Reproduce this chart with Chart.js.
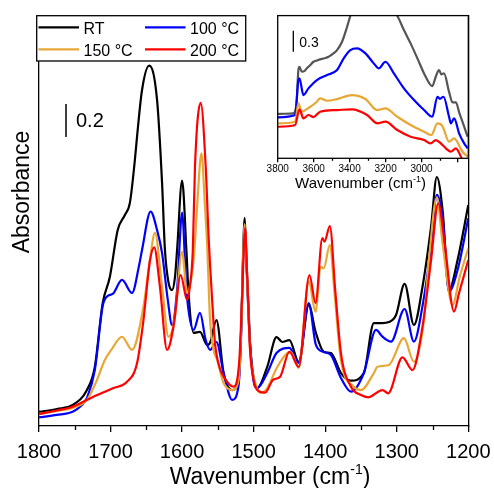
<!DOCTYPE html>
<html>
<head>
<meta charset="utf-8">
<script src="https://cdn.jsdelivr.net/npm/chart.js@4.4.1/dist/chart.umd.min.js"></script>
<style>
  html, body { margin: 0; padding: 0; background: #fff; }
  #wrap { position: relative; width: 494px; height: 488px; }
  #main { position: absolute; left: 0; top: 0; width: 494px; height: 488px; }
  #inset { position: absolute; left: 230px; top: 0; width: 264px; height: 200px; }
</style>
</head>
<body>
<div id="wrap">
  <canvas id="main" width="494" height="488"></canvas>
  <canvas id="inset" width="264" height="200"></canvas>
</div>
<script>
// series labels / colours
const SERIES_LABELS = ['RT', '100 °C', '150 °C', '200 °C'];
const SERIES_COLORS = ['#000000', '#0000ff', '#e8a735', '#ff0000'];
const INSET_RT_COLOR = '#555555';

// main axis (wavenumber, cm-1)
const MAIN_TICKS = [1800, 1700, 1600, 1500, 1400, 1300, 1200];
const MAIN_MINOR = [1750, 1650, 1550, 1450, 1350, 1250];
// inset axis
const INSET_TICKS = [3800, 3600, 3400, 3200, 3000, 2800];
const INSET_MINOR = [3700, 3500, 3300, 3100, 2900];

// main spectra [wavenumber, absorbance]
const RT_MAIN = [[1800,0.085],[1775,0.103],[1753,0.127],[1733,0.218],[1722,0.358],[1711,0.745],[1701,0.903],[1690,1.188],[1680,1.279],[1673,1.352],[1666,1.612],[1663,1.752],[1656,2.036],[1646,2.184],[1635,1.976],[1628,1.473],[1624,1.067],[1619,0.87],[1614,0.824],[1610,0.9],[1607,1.067],[1600,1.487],[1594,1.067],[1591,0.806],[1584,0.564],[1575,0.570],[1565,0.491],[1561,0.503],[1552,0.642],[1542,0.321],[1530,0.218],[1521,0.279],[1517,0.642],[1515,1.0],[1512.5,1.261],[1510,1.0],[1507,0.7],[1505,0.503],[1500,0.291],[1495,0.230],[1481,0.358],[1468,0.539],[1460,0.509],[1450,0.521],[1437,0.388],[1423,0.733],[1413,0.564],[1402,0.450],[1392,0.442],[1378,0.321],[1364,0.275],[1346,0.321],[1332,0.624],[1320,0.624],[1311,0.630],[1301,0.673],[1289,0.861],[1276,0.612],[1264,0.844],[1252,1.208],[1244,1.509],[1236,1.309],[1227,0.824],[1215,1.006],[1200,1.339]];
const H100_MAIN = [[1800,0.053],[1775,0.067],[1753,0.087],[1740,0.127],[1733,0.170],[1722,0.339],[1711,0.727],[1704,0.788],[1697,0.800],[1684,0.885],[1670,0.806],[1660,0.976],[1656,1.067],[1644,1.299],[1635,1.188],[1628,1.048],[1620,0.764],[1614,0.612],[1607,0.824],[1600,1.293],[1594,0.824],[1584,0.582],[1575,0.685],[1567,0.521],[1561,0.461],[1552,0.509],[1542,0.321],[1530,0.158],[1521,0.248],[1517,0.62],[1515,0.97],[1512.5,1.212],[1510,0.97],[1507,0.66],[1505,0.491],[1500,0.27],[1495,0.230],[1481,0.321],[1468,0.442],[1450,0.473],[1437,0.382],[1423,0.745],[1413,0.491],[1402,0.448],[1392,0.430],[1378,0.291],[1364,0.208],[1346,0.321],[1329,0.582],[1320,0.541],[1308,0.511],[1289,0.709],[1276,0.511],[1264,0.727],[1252,1.087],[1244,1.400],[1236,1.268],[1227,0.814],[1215,0.945],[1200,1.259]];
const H150_MAIN = [[1800,0.073],[1775,0.091],[1753,0.109],[1733,0.158],[1720,0.268],[1708,0.400],[1699,0.461],[1684,0.541],[1670,0.461],[1654,0.723],[1645,1.006],[1638,1.170],[1628,0.844],[1619,0.541],[1610,0.662],[1600,1.056],[1593,0.806],[1587,0.9],[1583,1.056],[1579,1.329],[1573,1.653],[1568,1.329],[1565,1.1],[1561,0.65],[1556,0.46],[1551,0.4],[1542,0.261],[1530,0.218],[1521,0.279],[1517,0.64],[1515,1.0],[1512.5,1.224],[1510,0.98],[1507,0.66],[1505,0.461],[1497,0.25],[1490,0.200],[1481,0.230],[1467,0.358],[1453,0.442],[1448,0.448],[1437,0.352],[1423,0.875],[1413.5,0.693],[1406.5,0.965],[1402,0.956],[1393.5,1.097],[1387,0.806],[1378,0.400],[1360,0.238],[1350,0.218],[1332,0.321],[1327,0.359],[1311,0.370],[1290,0.532],[1276,0.390],[1262,0.642],[1255,1.006],[1244,1.384],[1236,1.109],[1222,0.733],[1212,0.905],[1200,1.077]];
const H200_MAIN = [[1800,0.073],[1775,0.094],[1753,0.117],[1724,0.178],[1696,0.230],[1677,0.268],[1663,0.380],[1654,0.642],[1645,1.0],[1639,1.083],[1631,0.844],[1621,0.461],[1612,0.602],[1602,0.915],[1593,0.764],[1589,0.85],[1585,1.067],[1582,1.571],[1574,1.959],[1567,1.571],[1563,1.15],[1558.5,0.80],[1554,0.503],[1548,0.36],[1542,0.299],[1528,0.238],[1520,0.40],[1516,0.8],[1512,1.200],[1509,0.9],[1505,0.461],[1500,0.28],[1495,0.218],[1484,0.202],[1473,0.279],[1463,0.299],[1450,0.450],[1437,0.359],[1422,0.915],[1413.5,0.745],[1404,1.138],[1401,1.117],[1393.5,1.212],[1386,0.824],[1378,0.442],[1364,0.238],[1350,0.188],[1340,0.174],[1320,0.218],[1312,0.198],[1292,0.416],[1278,0.339],[1264,0.602],[1252,1.006],[1242,1.350],[1233,1.107],[1220,0.693],[1213,0.804],[1200,1.006]];

// inset spectra (O-H / C-H region) [wavenumber, absorbance]
const RT_INSET = [[3800,0.633],[3760,0.637],[3713,0.643],[3700,0.70],[3694,0.833],[3685,1.261],[3679,1.309],[3666,1.237],[3650,1.25],[3638,1.286],[3620,1.33],[3601,1.380],[3580,1.40],[3564,1.414],[3540,1.43],[3517,1.451],[3490,1.50],[3470,1.547],[3442,1.666],[3414,1.880],[3396,2.037],[3360,2.25],[3300,2.32],[3240,2.28],[3180,2.18],[3135,2.037],[3098,1.833],[3061,1.643],[3023,1.429],[2977,1.166],[2940,1.033],[2921,1.166],[2903,1.261],[2890,1.2],[2875,1.214],[2847,0.95],[2828,0.8],[2809,0.80],[2790,0.65],[2763,0.452],[2744,0.308]];
const H100_INSET = [[3800,0.586],[3703,0.619],[3685,1.119],[3679,1.143],[3657,0.904],[3629,1.0],[3582,1.119],[3526,1.19],[3470,1.261],[3433,1.429],[3396,1.547],[3359,1.571],[3312,1.5],[3266,1.357],[3238,1.286],[3201,1.380],[3154,1.214],[3098,1.0],[3042,0.833],[2986,0.690],[2940,0.594],[2912,0.88],[2898,0.85],[2878,0.88],[2847,0.594],[2837,0.5],[2819,0.571],[2790,0.35],[2763,0.214],[2744,0.143]];
const H150_INSET = [[3800,0.5],[3703,0.523],[3685,0.786],[3666,0.667],[3629,0.719],[3582,0.809],[3564,0.857],[3526,0.823],[3470,0.847],[3387,0.904],[3312,0.847],[3247,0.690],[3201,0.714],[3135,0.594],[3061,0.476],[2986,0.380],[2945,0.333],[2912,0.5],[2884,0.46],[2847,0.237],[2819,0.286],[2772,0.094],[2744,0.023]];
const H200_INSET = [[3800,0.451],[3703,0.476],[3679,0.7],[3657,0.571],[3629,0.619],[3601,0.59],[3564,0.666],[3470,0.690],[3387,0.7],[3303,0.619],[3247,0.5],[3201,0.523],[3135,0.404],[3061,0.309],[2986,0.261],[2950,0.214],[2921,0.261],[2893,0.214],[2865,0.143],[2837,0.094],[2809,0.143],[2781,0.023],[2760,-0.1]];

const FONT = "'Liberation Sans', Arial, Helvetica, sans-serif";
Chart.defaults.font.family = FONT;
Chart.defaults.color = '#000';

function dataset(pairs, i, color) {
  return {
    label: SERIES_LABELS[i],
    data: pairs.map(p => ({ x: p[0], y: p[1] })),
    borderColor: color || SERIES_COLORS[i],
    borderWidth: 2.2,
    pointRadius: 0,
    fill: false,
    cubicInterpolationMode: 'monotone',
    order: 3 - i
  };
}

function supTitle(ctx, cx, base, size, supSize, raise) {
  const a = 'Wavenumber (cm', s = '-1', b = ')';
  ctx.font = size + 'px ' + FONT;
  const wa = ctx.measureText(a).width, wb = ctx.measureText(b).width;
  ctx.font = supSize + 'px ' + FONT;
  const ws = ctx.measureText(s).width;
  let x = cx - (wa + ws + wb) / 2;
  ctx.textAlign = 'left';
  ctx.textBaseline = 'alphabetic';
  ctx.fillStyle = '#000';
  ctx.font = size + 'px ' + FONT;
  ctx.fillText(a, x, base);
  ctx.font = supSize + 'px ' + FONT;
  ctx.fillText(s, x + wa, base - raise);
  ctx.font = size + 'px ' + FONT;
  ctx.fillText(b, x + wa + ws, base);
}

const mainDecor = {
  id: 'mainDecor',
  afterDraw(chart) {
    const { ctx, chartArea: a, scales: { x, y } } = chart;
    ctx.save();
    ctx.strokeStyle = '#000';
    ctx.lineWidth = 1.3;
    MAIN_MINOR.forEach(v => {
      const px = Math.round(x.getPixelForValue(v)) + 0.5;
      ctx.beginPath(); ctx.moveTo(px, a.bottom); ctx.lineTo(px, a.bottom + 4); ctx.stroke();
    });

    // legend box
    ctx.fillStyle = '#fff';
    ctx.fillRect(36.7, 15.7, 209, 45.3);
    ctx.strokeRect(36.7, 15.7, 209, 45.3);
    ctx.font = '16px ' + FONT;
    ctx.textAlign = 'left';
    ctx.textBaseline = 'alphabetic';
    chart.data.datasets.forEach((ds, i) => {
      const lx = [38.5, 145][i % 2];
      const ly = [27.3, 49.3][Math.floor(i / 2)];
      ctx.strokeStyle = ds.borderColor;
      ctx.lineWidth = 2.2;
      ctx.beginPath(); ctx.moveTo(lx, ly); ctx.lineTo(lx + 40.5, ly); ctx.stroke();
      ctx.fillStyle = '#000';
      ctx.fillText(ds.label, lx + 45, ly + 6.7);
    });

    // scale bar 0.2
    const len = y.getPixelForValue(0) - y.getPixelForValue(0.2);
    ctx.strokeStyle = '#000';
    ctx.lineWidth = 1.5;
    ctx.beginPath(); ctx.moveTo(66, 137); ctx.lineTo(66, 137 - len); ctx.stroke();
    ctx.fillStyle = '#000';
    ctx.font = '20px ' + FONT;
    ctx.fillText('0.2', 76, 126.7);

    // axis titles
    supTitle(ctx, 270, 484, 23, 14, 10);
    ctx.save();
    ctx.translate(28.5, 192);
    ctx.rotate(-Math.PI / 2);
    ctx.textAlign = 'center';
    ctx.font = '23px ' + FONT;
    ctx.fillText('Absorbance', 0, 0);
    ctx.restore();
    ctx.restore();
  }
};

new Chart(document.getElementById('main'), {
  type: 'line',
  data: {
    datasets: [
      dataset(RT_MAIN, 0), dataset(H100_MAIN, 1), dataset(H150_MAIN, 2), dataset(H200_MAIN, 3)
    ]
  },
  options: {
    responsive: false,
    animation: false,
    devicePixelRatio: 1,
    layout: { padding: { left: 39, right: 25.7, top: 15.6, bottom: 0 } },
    plugins: { legend: { display: false }, tooltip: { enabled: false } },
    scales: {
      x: {
        type: 'linear', reverse: true, min: 1200, max: 1800,
        afterBuildTicks: s => { s.ticks = MAIN_TICKS.map(v => ({ value: v })); },
        afterFit: s => { s.height = 62; s.paddingLeft = 0; s.paddingRight = 0; },
        ticks: { color: '#000', font: { size: 20 }, padding: 8, maxRotation: 0, autoSkip: false, callback: v => String(v) },
        grid: { drawOnChartArea: false, tickLength: 6, color: '#000', lineWidth: 1.3 },
        border: { display: true, color: '#000', width: 1.3 }
      },
      y: {
        min: 0, max: 2.487,
        ticks: { display: false },
        grid: { display: false, drawTicks: false },
        border: { display: true, color: '#000', width: 1.3 }
      },
      y2: {
        position: 'right', min: 0, max: 1,
        ticks: { display: false },
        grid: { display: false, drawTicks: false },
        border: { display: true, color: '#000', width: 1.3 }
      }
    }
  },
  plugins: [mainDecor]
});

const insetDecor = {
  id: 'insetDecor',
  beforeDraw(chart) {
    const { ctx, chartArea: a } = chart;
    ctx.save();
    ctx.fillStyle = '#fff';
    ctx.fillRect(a.left, a.top, a.right - a.left, a.bottom - a.top);
    ctx.restore();
  },
  afterDraw(chart) {
    const { ctx, chartArea: a, scales: { x, y } } = chart;
    ctx.save();
    ctx.strokeStyle = '#000';
    ctx.lineWidth = 1.3;
    ctx.strokeRect(a.left, a.top, a.right - a.left, a.bottom - a.top);
    INSET_MINOR.forEach(v => {
      const px = Math.round(x.getPixelForValue(v)) + 0.5;
      ctx.beginPath(); ctx.moveTo(px, a.bottom); ctx.lineTo(px, a.bottom + 2.5); ctx.stroke();
    });
    // scale bar 0.3
    const len = y.getPixelForValue(0) - y.getPixelForValue(0.3);
    ctx.lineWidth = 1.3;
    ctx.beginPath(); ctx.moveTo(63.3, 51.7); ctx.lineTo(63.3, 51.7 - len); ctx.stroke();
    ctx.fillStyle = '#000';
    ctx.font = '14px ' + FONT;
    ctx.textAlign = 'left';
    ctx.textBaseline = 'alphabetic';
    ctx.fillText('0.3', 69.3, 47.3);
    supTitle(ctx, 130.5, 188.3, 15, 9, 6.5);
    ctx.restore();
  }
};

new Chart(document.getElementById('inset'), {
  type: 'line',
  data: {
    datasets: [
      dataset(RT_INSET, 0, INSET_RT_COLOR), dataset(H100_INSET, 1), dataset(H150_INSET, 2), dataset(H200_INSET, 3)
    ]
  },
  options: {
    responsive: false,
    animation: false,
    devicePixelRatio: 1,
    layout: { padding: { left: 47.7, right: 25.7, top: 15.6, bottom: 0 } },
    plugins: { legend: { display: false }, tooltip: { enabled: false } },
    scales: {
      x: {
        type: 'linear', reverse: true, min: 2740, max: 3800,
        afterBuildTicks: s => { s.ticks = INSET_TICKS.map(v => ({ value: v })); },
        afterFit: s => { s.height = 41.7; s.paddingLeft = 0; s.paddingRight = 0; },
        ticks: { color: '#000', font: { size: 10 }, padding: 1, maxRotation: 0, autoSkip: false,
                 callback: v => (v >= 3000 ? String(v) : '') },
        grid: { drawOnChartArea: false, tickLength: 4, color: '#000', lineWidth: 1.3 },
        border: { display: false }
      },
      y: { display: false, min: 0, max: 2.04 }
    }
  },
  plugins: [insetDecor]
});
</script>
</body>
</html>
